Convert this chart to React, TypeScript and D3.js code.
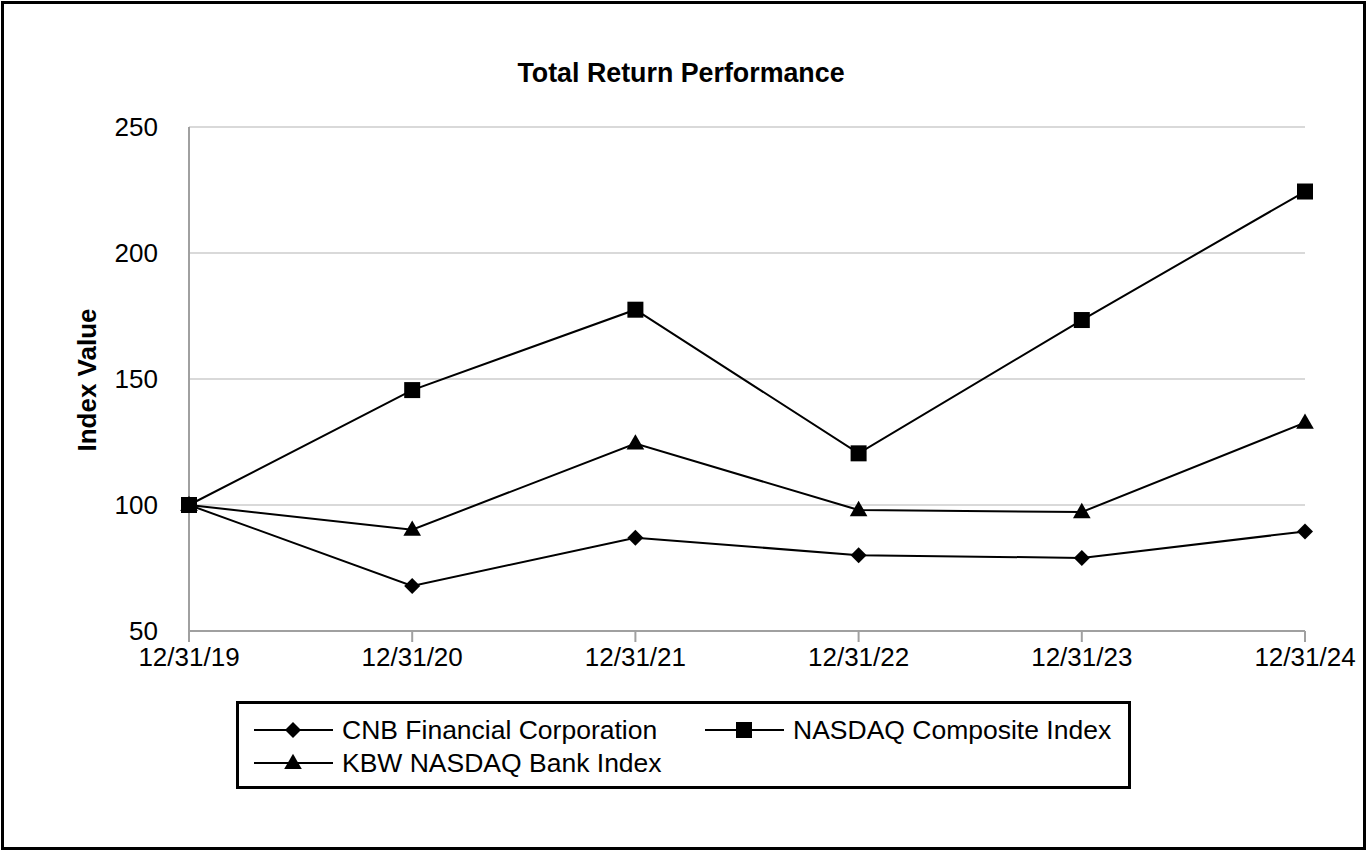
import React from "react";
import * as d3 from "d3";

const categories = ["12/31/19", "12/31/20", "12/31/21", "12/31/22", "12/31/23", "12/31/24"];
const cnb = [100, 67.9, 87, 80.1, 79, 89.5];
const nasdaq = [100, 145.6, 177.5, 120.5, 173.4, 224.4];
const kbw = [100, 90.2, 124.4, 98, 97.2, 132.7];
const yTicks = [50, 100, 150, 200, 250];
const seriesNames = ["CNB Financial Corporation", "NASDAQ Composite Index", "KBW NASDAQ Bank Index"];

const W = 1368, H = 852;
const FONT = "'Liberation Sans', Arial, sans-serif";

function Marker({ type, x, y }: { type: string; x: number; y: number }) {
  if (type === "square") return <rect x={x - 8} y={y - 8} width={16} height={16} fill="#000" />;
  if (type === "diamond") {
    const r = 8;
    return <path d={`M0,${-r}L${r},0L0,${r}L${-r},0Z`} transform={`translate(${x},${y})`} fill="#000" />;
  }
  const p = d3.symbol(d3.symbolTriangle, 135)();
  return <path d={p as string} transform={`translate(${x},${y + 1})`} fill="#000" />;
}

export default function App() {
  const x = d3.scalePoint<string>().domain(categories).range([189, 1305]);
  const y = d3.scaleLinear().domain([50, 250]).range([631, 127]);
  const line = d3.line<number>().x((_, i) => x(categories[i]) as number).y((v) => y(v));
  const series = [
    { name: seriesNames[0], data: cnb, marker: "diamond" },
    { name: seriesNames[1], data: nasdaq, marker: "square" },
    { name: seriesNames[2], data: kbw, marker: "triangle" },
  ];
  const legendPos = [
    { lx: 254, ly: 730 },
    { lx: 705, ly: 730 },
    { lx: 254, ly: 763 },
  ];
  return (
    <svg width={W} height={H} style={{ position: "absolute", left: 0, top: 0, background: "#fff" }} fontFamily={FONT}>
      <rect x={2.5} y={2.5} width={1362} height={846} fill="#fff" stroke="#000" strokeWidth={3} />
      <text x={681} y={82} textAnchor="middle" fontSize={26.8} fontWeight="bold">Total Return Performance</text>
      <text transform="translate(96,380) rotate(-90)" textAnchor="middle" fontSize={26} fontWeight="bold">Index Value</text>
      {yTicks.map((t) => (
        <g key={t}>
          {t !== 50 && <line x1={189} x2={1305} y1={y(t)} y2={y(t)} stroke="#d9d9d9" strokeWidth={2} />}
          <text x={158} y={y(t)} dy="0.35em" textAnchor="end" fontSize={26}>{t}</text>
        </g>
      ))}
      <line x1={189} x2={189} y1={127} y2={631} stroke="#a0a0a0" strokeWidth={2} />
      <line x1={189} x2={1305} y1={631} y2={631} stroke="#a0a0a0" strokeWidth={2} />
      {categories.map((c) => (
        <g key={c}>
          <line x1={x(c)} x2={x(c)} y1={631} y2={642} stroke="#a0a0a0" strokeWidth={2} />
          <text x={x(c)} y={666} textAnchor="middle" fontSize={26}>{c}</text>
        </g>
      ))}
      {series.map((s) => (
        <g key={s.name}>
          <path d={line(s.data) as string} fill="none" stroke="#000" strokeWidth={2} />
          {s.data.map((v, i) => (
            <Marker key={i} type={s.marker} x={x(categories[i]) as number} y={y(v)} />
          ))}
        </g>
      ))}
      <rect x={237.5} y={702.5} width={892} height={85} fill="#fff" stroke="#000" strokeWidth={3} />
      {series.map((s, i) => {
        const p = legendPos[i];
        return (
          <g key={s.name}>
            <line x1={p.lx} x2={p.lx + 79} y1={p.ly} y2={p.ly} stroke="#000" strokeWidth={2} />
            <Marker type={s.marker} x={p.lx + 39} y={p.ly} />
            <text x={p.lx + 88} y={p.ly} dy="0.35em" fontSize={26.5}>{s.name}</text>
          </g>
        );
      })}
    </svg>
  );
}
